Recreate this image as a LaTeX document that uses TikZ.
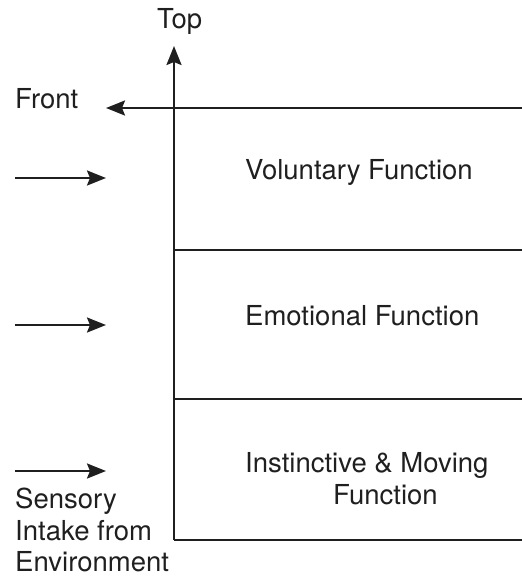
\documentclass[tikz,border=0pt]{standalone}
\usepackage{fontspec}
\setmainfont{TeX Gyre Heros}
\usetikzlibrary{arrows.meta}
\begin{document}
\begin{tikzpicture}[x=1pt,y=-1pt,
  lbl/.style={anchor=base west,inner sep=0pt,text=black!88,font=\fontsize{27.5}{33}\selectfont},
  ln/.style={line width=2.2pt,draw=black!88},
  arr/.style={ln,-{Stealth[length=19pt,width=15pt,inset=3pt]}}]
\useasboundingbox (0,0) rectangle (522,576);
% coordinates
\coordinate (axB) at (174,540);
\coordinate (axT) at (174,46);
\coordinate (bR) at (522,540);
\coordinate (m1L) at (174,250); \coordinate (m1R) at (522,250);
\coordinate (m2L) at (174,399); \coordinate (m2R) at (522,399);
\coordinate (tR) at (522,108); \coordinate (tL) at (106,108);
\coordinate (a1s) at (15,178); \coordinate (a1e) at (106,178);
\coordinate (a2s) at (15,325); \coordinate (a2e) at (106,325);
\coordinate (a3s) at (15,471); \coordinate (a3e) at (106,471);
% lines
\draw[ln] (bR) -- (axB);
\draw[arr] (axB) -- (axT);
\draw[ln] (m1L) -- (m1R);
\draw[ln] (m2L) -- (m2R);
\draw[arr] (tR) -- (tL);
\draw[arr] (a1s) -- (a1e);
\draw[arr] (a2s) -- (a2e);
\draw[arr] (a3s) -- (a3e);
% labels
\node[lbl] (top) at (157,28) {Top};
\node[lbl] (front) at (15,108) {Front};
\node[lbl] (vol) at (245,179) {Voluntary Function};
\node[lbl] (emo) at (245,325) {Emotional Function};
\node[lbl] (ins1) at (245,472) {Instinctive \& Moving};
\node[lbl] (ins2) at (333,504) {Function};
\node[lbl] (s1) at (15,508) {Sensory};
\node[lbl] (s2) at (15,540) {Intake from};
\node[lbl] (s3) at (15,571) {Environment};
\end{tikzpicture}
\end{document}
